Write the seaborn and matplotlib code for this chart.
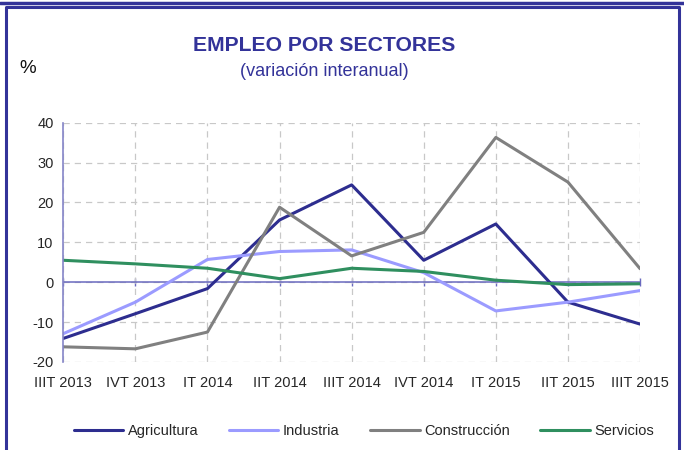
import matplotlib
matplotlib.use("Agg")
import matplotlib.pyplot as plt
import seaborn as sns
import pandas as pd

# -------------------------------
# Data (variación interanual, %)
# -------------------------------
periods = ["IIIT 2013", "IVT 2013", "IT 2014", "IIT 2014", "IIIT 2014",
           "IVT 2014", "IT 2015", "IIT 2015", "IIIT 2015"]
agricultura = [-14.1, -7.9, -1.6, 15.6, 24.4, 5.5, 14.6, -5.0, -10.5]
industria = [-12.9, -5.0, 5.7, 7.7, 8.1, 2.4, -7.2, -5.0, -2.1]
construccion = [-16.2, -16.7, -12.5, 18.8, 6.6, 12.5, 36.3, 25.1, 3.4]
servicios = [5.5, 4.6, 3.5, 0.9, 3.5, 2.7, 0.5, -0.6, -0.4]

sectors = ["Agricultura", "Industria", "Construcción", "Servicios"]
colors = ["#2d2d8f", "#9b9bff", "#808080", "#2f8f5f"]

df = pd.DataFrame({
    "idx": list(range(len(periods))) * 4,
    "valor": agricultura + industria + construccion + servicios,
    "sector": [s for s in sectors for _ in periods],
})

# -------------------------------
# Figure
# -------------------------------
sns.set_style("white")
plt.rcParams["font.family"] = ["Liberation Sans", "DejaVu Sans"]
plt.rcParams["axes.unicode_minus"] = False

fig = plt.figure(figsize=(6.84, 4.5), dpi=100)
ax = fig.add_axes([0.0925, 0.1956, 0.8432, 0.5318])

sns.lineplot(data=df, x="idx", y="valor", hue="sector", hue_order=sectors,
             palette=colors, linewidth=2.2, ax=ax, legend=False)

ax.set_xlim(0, len(periods) - 1)
ax.set_ylim(-20, 40)
ax.set_yticks(range(-20, 41, 10))
ax.set_xticks(range(len(periods)))
ax.set_xticklabels(periods)
ax.set_xlabel("")
ax.set_ylabel("")

ax.grid(True, color="#c8c8c8", linestyle=(0, (5, 4)), linewidth=0.9)
ax.set_axisbelow(True)
for side in ["top", "right", "bottom"]:
    ax.spines[side].set_visible(False)
ax.spines["left"].set_color("#8585c8")
ax.spines["left"].set_linewidth(1.2)
ax.tick_params(axis="y", length=4, color="#8585c8", labelsize=10.5, pad=3)
ax.tick_params(axis="x", length=0, labelsize=10.5, pad=10)

# zero line with category ticks
ax.axhline(0, color="#6a6abf", linewidth=1.1, zorder=1.5)
sec = ax.secondary_xaxis(1 / 3)
sec.set_xticks(range(len(periods)))
sec.set_xticklabels([])
sec.spines["bottom"].set_visible(False)
sec.spines["top"].set_visible(False)
sec.tick_params(axis="x", direction="inout", length=6, color="#6a6abf", width=1)

# titles
fig.text(0.474, 0.898, "EMPLEO POR SECTORES", ha="center", va="center",
         fontsize=15.2, fontweight="bold", color="#333399")
fig.text(0.474, 0.84, "(variación interanual)", ha="center", va="center",
         fontsize=13, color="#333399")
fig.text(0.04, 0.848, "%", ha="center", va="center", fontsize=13.5, color="#111111")

# legend
handles = [plt.Line2D([], [], color=c, linewidth=2.2) for c in colors]
fig.legend(handles, sectors, loc="center", bbox_to_anchor=(0.532, 0.043), ncol=4,
           frameon=False, fontsize=10.5, handlelength=3.4, handletextpad=0.3,
           columnspacing=2.1)

# frame
fig.add_artist(plt.Line2D([0, 1], [0.994, 0.994], color="#333399", linewidth=2.5,
                          transform=fig.transFigure))
fig.add_artist(plt.Line2D([0.009, 0.009, 0.993, 0.993], [0, 0.984, 0.984, 0],
                          color="#333399", linewidth=2.2, transform=fig.transFigure))

fig.savefig("out.png", dpi=100)
